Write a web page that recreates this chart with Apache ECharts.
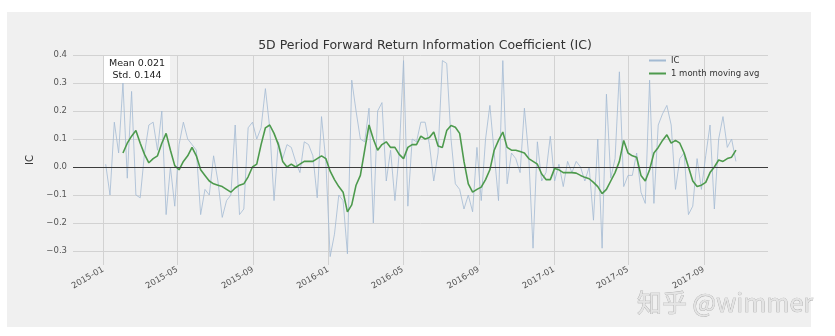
<!DOCTYPE html>
<html><head><meta charset="utf-8">
<script src="https://cdn.jsdelivr.net/npm/echarts@6/dist/echarts.min.js"></script>
<style>html,body{margin:0;padding:0;background:#fff}#c{width:835px;height:336px}</style>
</head><body><div id="c"></div>
<script>
const chartTitle = '5D Period Forward Return Information Coefficient (IC)';
const seriesNames = ['IC', '1 month moving avg'];
const startDate = [2015, 0, 5];   // first observation (weekly samples)
const stepDays = 7;
const icValues = [
  0.01,-0.10,0.16,0.05,0.30,-0.04,0.27,-0.10,-0.11,0.05,
  0.15,0.16,0.06,0.20,-0.17,0.00,-0.14,0.08,0.16,0.10,
  0.08,0.06,-0.17,-0.08,-0.10,0.04,-0.05,-0.18,-0.12,-0.10,
  0.15,-0.17,-0.15,0.14,0.16,0.10,0.14,0.28,0.14,-0.12,
  0.09,0.03,0.08,0.07,0.02,-0.02,0.09,0.08,0.04,-0.11,
  0.18,0.02,-0.32,-0.24,-0.10,-0.12,-0.31,0.31,0.20,0.10,
  0.09,0.21,-0.20,0.20,0.23,-0.05,0.06,-0.12,0.05,0.38,
  -0.14,0.10,0.09,0.16,0.16,0.08,-0.05,0.05,0.38,0.37,
  0.10,-0.06,-0.08,-0.15,-0.10,-0.16,0.07,-0.12,0.10,0.22,
  0.05,-0.12,0.38,-0.06,0.05,0.03,-0.02,0.21,0.04,-0.29,
  0.09,-0.05,-0.02,0.11,-0.05,0.01,-0.07,0.02,-0.02,0.02,
  0.00,-0.05,0.00,-0.19,0.10,-0.29,0.26,-0.04,0.03,0.34,
  -0.07,-0.03,-0.03,0.05,-0.09,-0.13,0.31,-0.13,0.15,0.19,
  0.22,0.15,-0.08,0.03,0.05,-0.17,-0.14,0.03,-0.08,0.04,
  0.15,-0.15,0.10,0.18,0.07,0.10,0.02
];
const maValues = [
  null,null,null,null,0.05,0.085,0.11,0.13,0.085,0.045,
  0.015,0.03,0.04,0.085,0.12,0.06,0.005,-0.01,0.02,0.04,
  0.07,0.04,-0.01,-0.03,-0.05,-0.06,-0.065,-0.07,-0.08,-0.09,
  -0.075,-0.065,-0.06,-0.035,0.0,0.01,0.08,0.14,0.15,0.12,
  0.08,0.02,0.0,0.01,0.0,0.01,0.02,0.02,0.02,0.03,
  0.04,0.03,-0.015,-0.045,-0.07,-0.09,-0.16,-0.135,-0.065,-0.03,
  0.06,0.15,0.10,0.06,0.08,0.09,0.07,0.07,0.045,0.03,
  0.07,0.08,0.08,0.11,0.10,0.105,0.125,0.075,0.07,0.13,
  0.148,0.142,0.12,0.02,-0.06,-0.09,-0.08,-0.072,-0.045,-0.01,
  0.06,0.095,0.125,0.07,0.06,0.06,0.055,0.05,0.03,0.02,
  0.01,-0.025,-0.045,-0.045,-0.005,-0.01,-0.02,-0.02,-0.02,-0.022,
  -0.03,-0.037,-0.042,-0.055,-0.07,-0.095,-0.08,-0.05,-0.02,0.02,
  0.095,0.05,0.04,0.035,-0.03,-0.05,-0.01,0.05,0.07,0.095,
  0.115,0.085,0.095,0.085,0.05,0.0,-0.05,-0.07,-0.065,-0.055,
  -0.02,0.0,0.025,0.02,0.03,0.035,0.06
];
const xTickLabels = ['2015-01','2015-05','2015-09','2016-01','2016-05','2016-09','2017-01','2017-05','2017-09'];
const xRange = [[2014, 10, 13], [2017, 11, 14]];
const yRange = [-0.35, 0.40];
const statsLines = ['Mean 0.021', 'Std. 0.144'];
const watermark = '知乎 @wimmer';

const ts = (y, m, d) => new Date(y, m, d).getTime();
const dates = icValues.map((_, i) => ts(startDate[0], startDate[1], startDate[2] + stepDays * i));
const icData = icValues.map((v, i) => [dates[i], v]);
const maData = maValues.map((v, i) => [dates[i], v]);
const xTicks = xTickLabels.map(s => { const p = s.split('-'); return ts(+p[0], +p[1] - 1, 1); });
const pad2 = n => (n < 10 ? '0' : '') + n;
const FONT = 'DejaVu Sans';

const chart = echarts.init(document.getElementById('c'), null, {renderer: 'canvas'});
chart.setOption({
  backgroundColor: '#ffffff',
  animation: false,
  title: {
    text: chartTitle, left: 420, top: 34, textAlign: 'center',
    textStyle: {fontFamily: FONT, fontSize: 12.5, fontWeight: 'normal', color: '#333'}
  },
  legend: {
    orient: 'vertical', left: 648, top: 56, padding: 0,
    itemWidth: 17, itemHeight: 9, itemGap: 4,
    itemStyle: {opacity: 0},
    textStyle: {fontFamily: FONT, fontSize: 8.5, color: '#333'}
  },
  grid: {left: 73, right: 67, top: 55, bottom: 71},
  xAxis: {
    type: 'value',
    min: ts(...xRange[0]), max: ts(...xRange[1]),
    axisLine: {show: false},
    axisTick: {show: false, customValues: xTicks},
    axisLabel: {
      customValues: xTicks, rotate: 30, margin: 4,
      fontFamily: FONT, fontSize: 8.5, color: '#555',
      formatter: v => { const d = new Date(v); return d.getFullYear() + '-' + pad2(d.getMonth() + 1); }
    },
    splitLine: {show: true, lineStyle: {color: '#d2d2d2', width: 1}}
  },
  yAxis: {
    type: 'value', min: yRange[0], max: yRange[1], interval: 0.05,
    name: 'IC', nameLocation: 'middle', nameGap: 31, nameRotate: 90,
    nameTextStyle: {fontFamily: FONT, fontSize: 10, color: '#333'},
    axisLine: {show: false}, axisTick: {show: false},
    axisLabel: {
      margin: 6, fontFamily: FONT, fontSize: 8.5, color: '#555',
      formatter: v => { const k = Math.round(v * 100); if (k % 10 !== 0) return ''; const s = Math.abs(k / 100).toFixed(1); return (k < 0 ? '\u2212' : '') + s; }
    },
    splitLine: {show: true, lineStyle: {color: ['rgba(0,0,0,0)', '#d2d2d2'], width: 1}}
  },
  series: [
    {
      name: seriesNames[0], type: 'line', data: icData, symbol: 'none',
      lineStyle: {color: '#a3bad3', width: 0.8}, itemStyle: {color: '#a3bad3'},
      z: 2,
      markLine: {
        silent: true, symbol: ['none', 'none'], label: {show: false},
        lineStyle: {color: '#3c3c3c', width: 1.2, type: 'solid'},
        data: [{yAxis: 0}]
      }
    },
    {
      name: seriesNames[1], type: 'line', data: maData, symbol: 'none', connectNulls: false,
      lineStyle: {color: '#4d9a4d', width: 1.6}, itemStyle: {color: '#4d9a4d'},
      z: 3
    }
  ],
  graphic: [
    {type: 'rect', z: -100, silent: true, shape: {x: 7, y: 12, width: 804, height: 315}, style: {fill: '#f0f0f0'}},
    {type: 'rect', z: 10, silent: true, shape: {x: 104, y: 56, width: 66, height: 27}, style: {fill: '#ffffff'}},
    {type: 'text', z: 11, silent: true, x: 137, y: 58,
     style: {text: statsLines.join('\n'), fontFamily: FONT, fontSize: 9.5, lineHeight: 11.5, fill: '#222', textAlign: 'center'}},
    {type: 'text', z: 20, silent: true, x: 637, y: 290,
     style: {text: watermark, fontFamily: 'Noto Sans CJK SC', fontSize: 25, fill: '#e4e4e4', stroke: '#a8a8a8', lineWidth: 0.7}}
  ]
});
</script>
</body></html>
